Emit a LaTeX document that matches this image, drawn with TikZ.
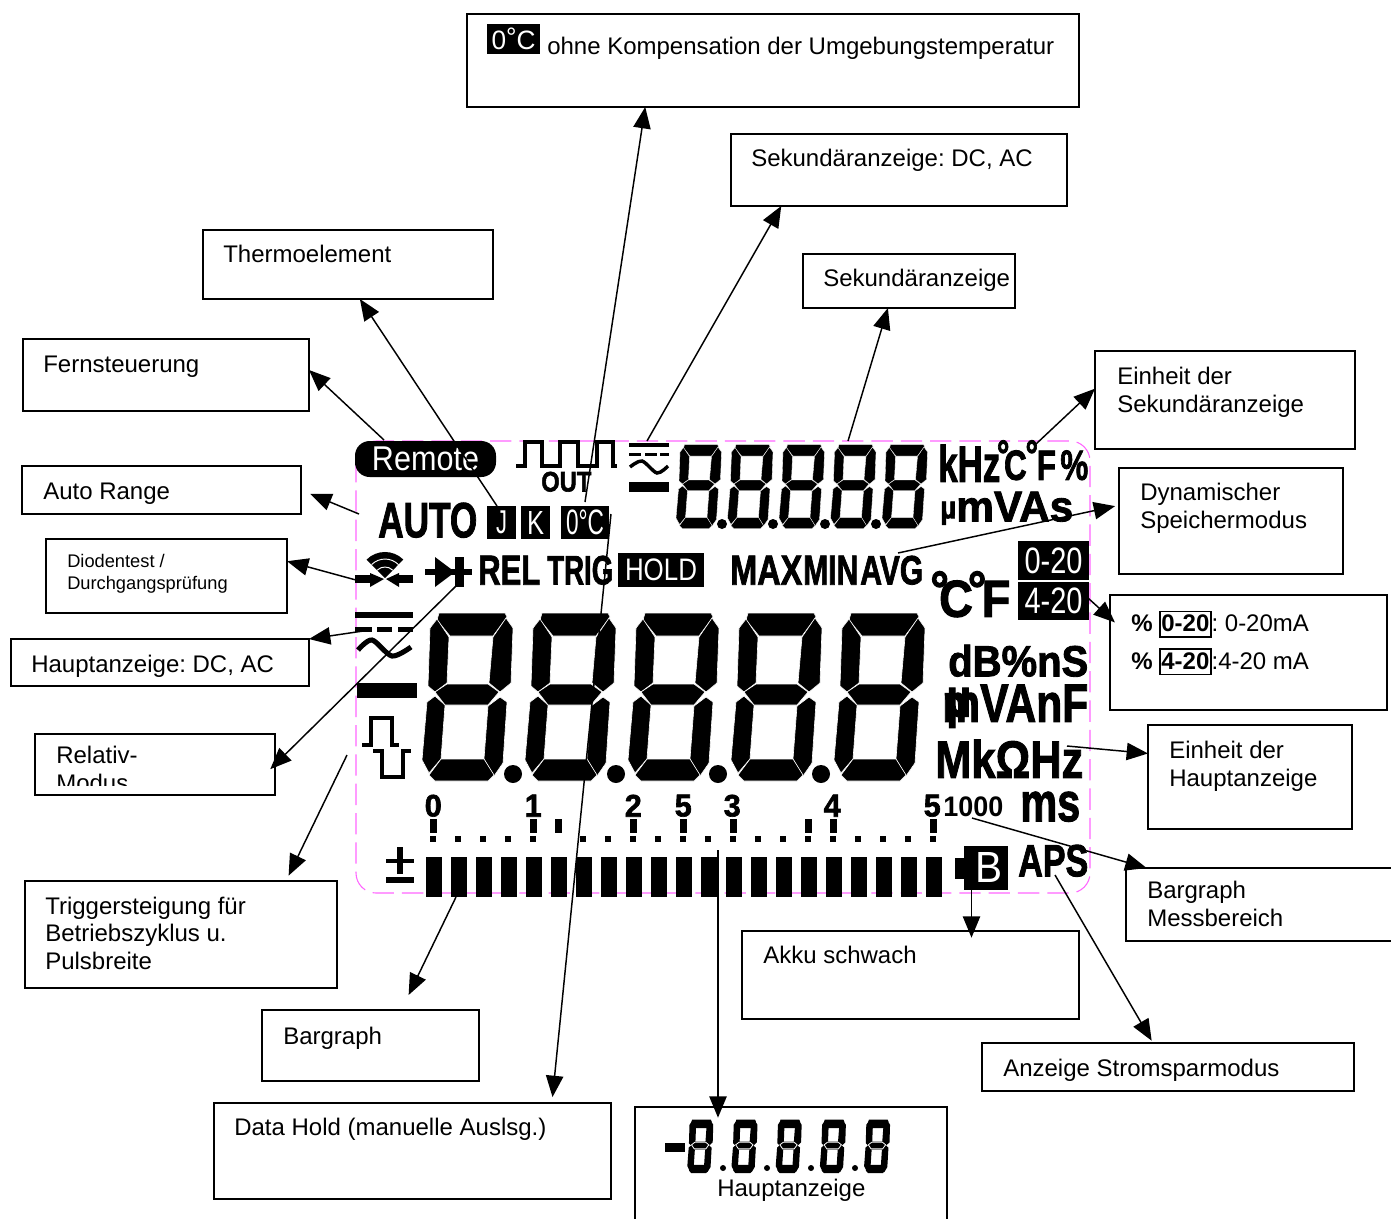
\documentclass[tikz,border=0pt]{standalone}
\usepackage{graphicx}
\usepackage{fontspec}
\setmainfont{Liberation Sans}
\newfontface\lcdface{Liberation Sans Bold}[FakeBold=2]
\usetikzlibrary{arrows.meta,calc}
\definecolor{lcdpink}{RGB}{255,102,255}
\newlength\pxu
\setlength\pxu{.75pt}
\newcommand{\lcdb}[3]{\resizebox*{#1\pxu}{#2\pxu}{\lcdface #3}}
\newcommand{\lcdr}[3]{\resizebox*{#1\pxu}{#2\pxu}{#3}}
\newcommand{\rdeg}[1]{\raisebox{#1}{°}}
\newcommand{\rngbox}[1]{\fbox{\rule[-3pt]{0pt}{17pt}\textbf{#1}}}
\newcommand{\lcdmidseg}{(13,80)--(25,72)--(66,72)--(77,80)--(66,93)--(23,93)--cycle}
\newcommand{\lcddigit}{%
  \filldraw[seg] (17,1)--(83,1)--(85,5)--(71,24)--(28,24)--(15,8)--cycle;
  \filldraw[seg] (15,7)--(27,25)--(25,71)--(13,80)--(6,74)--(8,16)--cycle;
  \filldraw[seg] (84,6)--(91,16)--(89,71)--(78,80)--(67,71)--(71,25)--cycle;
  \filldraw[seg] \lcdmidseg;
  \filldraw[seg] (13,84)--(5,90)--(0,148)--(7,161)--(19,147)--(23,93)--cycle;
  \filldraw[seg] (78,85)--(85,90)--(81,151)--(72,164)--(62,147)--(66,94)--cycle;
  \filldraw[seg] (19,147)--(62,147)--(72,163)--(66,169)--(13,169)--(7,163)--cycle;
}
\begin{document}
\frenchspacing
\begin{tikzpicture}[
  x=.75pt,y=-.75pt,
  lblbox/.style={
    rectangle, draw=black, line width=1.1pt, fill=white,
    anchor=north west, inner sep=0pt, outer sep=0pt
  },
  lbltxt/.style={
    anchor=base west, inner sep=0pt, align=left,
    font=\fontsize{18}{20.3}\selectfont
  },
  lblsmall/.style={
    anchor=base west, inner sep=0pt, align=left,
    font=\fontsize{13.7}{16.5}\selectfont
  },
  lcdlab/.style={anchor=south west, inner sep=0pt},
  lcdbadge/.style={fill=black, text=white, inner sep=0pt, outer sep=0pt},
  seg/.style={fill=black, draw=white, line width=.45pt},
  conn/.style={-{Triangle[length=16pt,width=13pt]}, line width=1.1pt, draw=black}
]
\useasboundingbox (0,0) rectangle (1391,1218);

\draw[lcdpink, line width=.8pt, rounded corners=15pt, dash pattern=on 16pt off 6pt]
  (356,441) rectangle (1090,893);

% upper row
\node[lcdbadge, rounded corners=11pt, minimum width=141\pxu, minimum height=36\pxu]
  (remote) at (425.5,459) {\lcdr{107}{24}{Remote}};
\draw[line width=3pt] (516,466) -| (525,442) -| (542,466) -| (560,442) -| (578,466)
  -| (597,442) -| (613,466) -- (617,466);
\node[lcdlab] (out) at (541,492) {\lcdb{50}{20}{OUT}};
\fill (629,443) rectangle (669,447);
\fill (629,453) rectangle (641,455.5);
\fill (645,453) rectangle (657,455.5);
\fill (660,453) rectangle (669,455.5);
\draw[line width=2.6pt] plot[smooth] coordinates {(630,467) (642,461) (657,473) (668,466)};
\fill (629,482) rectangle (669,492);
\foreach \dg in {0,1,2,3,4}{
  \begin{scope}[shift={({676+51.5*\dg},444)},scale=.5,seg/.style={fill=black,draw=white,line width=.25pt}]
    \lcddigit
  \end{scope}
}
\foreach \dotx in {722,773,825,876}{\fill (\dotx,524) circle (5);}
\node[lcdlab] (khz) at (938,482) {\lcdb{62}{37}{kHz}};
\node[lcdlab] (unitS) at (996.6,480.5) {\lcdb{91.4}{40}{\rdeg{.24em}\kern-.17em C\kern-.04em\rdeg{.24em}\kern-.04em F\kern.14em\%}};
\node[lcdlab] (mu) at (940,525) {\lcdb{16}{23}{µ}};
\node[lcdlab] (mvas) at (956,522) {\lcdb{117}{30}{mVAs}};

% second row
\node[lcdlab] (auto) at (378,538) {\lcdb{99}{35}{AUTO}};
\node[lcdbadge, minimum width=29\pxu, minimum height=33\pxu] (tcj) at (501.5,522.5) {\lcdr{11}{23}{J}};
\node[lcdbadge, minimum width=29\pxu, minimum height=33\pxu] (tck) at (535.5,522.5) {\lcdr{17}{23}{K}};
\node[lcdbadge, minimum width=48\pxu, minimum height=33\pxu] (tcz) at (585,522.5) {\lcdr{38}{25}{0°C}};

% third row
\fill (385,578) -- (366.6,559.6) arc[start angle=135,end angle=45,radius=19.5pt] -- cycle;
\draw[white, line width=.7pt] (371.6,564.6) arc[start angle=135,end angle=45,radius=14.25pt];
\draw[white, line width=.7pt] (377.2,570.2) arc[start angle=135,end angle=45,radius=8.25pt];
\fill (355,575) rectangle (372,583);
\fill (397,575) rectangle (413,583);
\fill (370,573) -- (370,587) -- (384,579) -- cycle;
\fill (399,573) -- (399,587) -- (386,579) -- cycle;
\fill (435,557) -- (435,587) -- (455,572) -- cycle;
\fill (425,569) rectangle (472,575);
\fill (455,557) rectangle (464,587);
\node[lcdlab] (rel) at (478,585) {\lcdb{62}{29}{REL}};
\node[lcdlab] (trig) at (547,585) {\lcdb{66}{29}{TRIG}};
\node[lcdbadge, minimum width=86\pxu, minimum height=34\pxu] (hold) at (661,570) {\lcdr{72}{22}{HOLD}};
\node[lcdlab] (max) at (730,585) {\lcdb{72}{29}{MAX}};
\node[lcdlab] (min) at (803,585) {\lcdb{55}{29}{MIN}};
\node[lcdlab] (avg) at (860,585) {\lcdb{63}{29}{AVG}};
\node[lcdlab] (unitT) at (930,617.5) {\lcdb{80}{46}{\rdeg{.18em}\kern-.21em C\kern-.11em\rdeg{.18em}\kern-.1em F}};
\node[lcdbadge, minimum width=71\pxu, minimum height=39\pxu] (rngA) at (1053.5,560.5) {\lcdr{58}{26}{0-20}};
\node[lcdbadge, minimum width=71\pxu, minimum height=38\pxu] (rngB) at (1053.5,601) {\lcdr{58}{26}{4-20}};

% main digits
\fill (355,612) rectangle (413,618);
\fill (355,627) rectangle (372,632);
\fill (377,627) rectangle (392,632);
\fill (398,627) rectangle (413,632);
\draw[line width=3.8pt] plot[smooth] coordinates {(358,650) (372,640) (392,656) (411,647)};
\fill (357,683) rectangle (417,698);
\draw[line width=3.4pt] (362,745) -- (371,745) -- (371,718) -- (392,718) -- (392,745) -- (399,745);
\draw[line width=3.4pt] (373,751) -- (382,751) -- (382,777) -- (403,777) -- (403,751) -- (411,751);
\foreach \dg in {0,1,2,3,4}{
  \begin{scope}[shift={({422+103*\dg},612)}]
    \lcddigit
  \end{scope}
}
\foreach \dotx in {513,616,718,821}{\fill (\dotx,774) circle (9);}
\node[lcdlab] (dbpct) at (948,677) {\lcdb{140}{32}{dB\%nS}};
\node[lcdlab] (mvanf) at (942,728) {\lcdb{146}{43}{\rlap{\kern.1em\raisebox{.1em}{µ}}mVAnF}};
\node[lcdlab] (mkohm) at (935,778) {\lcdb{148}{38}{MkΩHz}};
\node[lcdlab] (msec) at (1020,822) {\lcdb{60}{30}{ms}};

% bargraph
\foreach \nx/\nt in {433/0,533/1,633/2,683/5,732/3,832/4,932/5}{
  \node[lcdlab] (num\nx) at (\nx-8.5,817) {\lcdb{17}{22}{\nt}};
}
\node[lcdlab] (num1000) at (943,817) {\resizebox*{60\pxu}{20\pxu}{\bfseries 1000}};
\foreach \tx in {433,533,558,633,683,733,808,833,933}{\fill (\tx-3.5,819) rectangle (\tx+3.5,833);}
\foreach \tx in {433,458,483,508,533,583,608,633,658,683,708,733,758,783,808,833,858,883,908,933}{
  \fill (\tx-3,836) rectangle (\tx+3,842);
}
\foreach \bx in {0,...,20}{\fill ({426+25*\bx},857) rectangle ({442+25*\bx},897);}
\fill (386,859) rectangle (414,863);
\fill (397,847) rectangle (403,874);
\fill (386,877) rectangle (414,883);
\fill (964,846) rectangle (1008,890);
\fill (955,858) rectangle (964,879);
\node[lcdlab, text=white] (batt) at (975,883) {\lcdr{27}{30}{B}};
\node[lcdlab] (aps) at (1018,877) {\lcdb{70}{32}{APS}};

% label boxes
\node[lblbox, minimum width=612\pxu, minimum height=93\pxu] (kompBox) at (467,14) {};
\node[lcdbadge, minimum width=53\pxu, minimum height=30\pxu] (kompBadge) at (513.5,39) {\lcdr{44}{22}{0\rdeg{.12em}C}};
\node[lbltxt] (kompTxt) at (547,54) {ohne Kompensation der Umgebungstemperatur};
\node[lblbox, minimum width=336\pxu, minimum height=72\pxu] (sekdcBox) at (731,134) {};
\node[lbltxt] (sekdcTxt) at (751,166) {Sekundäranzeige: DC, AC};
\node[lblbox, minimum width=212\pxu, minimum height=54\pxu] (sekBox) at (803,254) {};
\node[lbltxt] (sekTxt) at (823,286) {Sekundäranzeige};
\node[lblbox, minimum width=290\pxu, minimum height=69\pxu] (thermBox) at (203,230) {};
\node[lbltxt] (thermTxt) at (223,262) {Thermoelement};
\node[lblbox, minimum width=286\pxu, minimum height=72\pxu] (fernBox) at (23,339) {};
\node[lbltxt] (fernTxt) at (43,372) {Fernsteuerung};
\node[lblbox, minimum width=279\pxu, minimum height=48\pxu] (autoBox) at (22,466) {};
\node[lbltxt] (autoTxt) at (43,499) {Auto Range};
\node[lblbox, minimum width=241\pxu, minimum height=74\pxu] (diodeBox) at (46,539) {};
\node[lblsmall] (diodeTxt) at (67,589) {Diodentest /\\Durchgangsprüfung};
\node[lblbox, minimum width=298\pxu, minimum height=47\pxu] (hauptdcBox) at (11,639) {};
\node[lbltxt] (hauptdcTxt) at (31,672) {Hauptanzeige: DC, AC};
\node[lblbox, minimum width=240\pxu, minimum height=61\pxu] (relBox) at (35,734) {};
\begin{scope}
  \clip (36,735) rectangle (274,785);
  \node[lbltxt] (relTxt) at (56,791) {Relativ-\\Modus};
\end{scope}
\node[lblbox, minimum width=312\pxu, minimum height=107\pxu] (trigBox) at (25,881) {};
\node[lbltxt] (trigTxt) at (45,969) {Triggersteigung für\\Betriebszyklus u.\\Pulsbreite};
\node[lblbox, minimum width=217\pxu, minimum height=71\pxu] (barBox) at (262,1010) {};
\node[lbltxt] (barTxt) at (283,1044) {Bargraph};
\node[lblbox, minimum width=397\pxu, minimum height=96\pxu] (holdBox) at (214,1103) {};
\node[lbltxt] (holdTxt) at (234,1135) {Data Hold (manuelle Auslsg.)};
\node[lblbox, minimum width=312\pxu, minimum height=125\pxu] (mainBox) at (635,1107) {};
\fill (665,1143) rectangle (685,1152);
\foreach \dg in {0,1,2,3,4}{
  \begin{scope}[shift={({688+44.2*\dg},1120)},xscale=.27,yscale=.31,seg/.style={fill=black,draw=black,line width=1pt}]
    \lcddigit
    \filldraw[fill=black,draw=white,line width=.6pt] \lcdmidseg;
  \end{scope}
}
\foreach \dotx in {723,767,811,855}{\fill (\dotx,1168) circle (3);}
\node[lbltxt] (mainTxt) at (717,1196) {Hauptanzeige};
\node[lblbox, minimum width=337\pxu, minimum height=88\pxu] (akkuBox) at (742,931) {};
\node[lbltxt] (akkuTxt) at (763,963) {Akku schwach};
\node[lblbox, minimum width=372\pxu, minimum height=48\pxu] (apsBox) at (982,1043) {};
\node[lbltxt] (apsTxt) at (1003,1076) {Anzeige Stromsparmodus};
\node[lblbox, minimum width=280\pxu, minimum height=73\pxu] (messBox) at (1126,868) {};
\node[lbltxt] (messTxt) at (1147,926) {Bargraph\\Messbereich};
\node[lblbox, minimum width=204\pxu, minimum height=104\pxu] (einhBox) at (1148,725) {};
\node[lbltxt] (einhTxt) at (1169,786) {Einheit der\\Hauptanzeige};
\node[lblbox, minimum width=277\pxu, minimum height=115\pxu] (rngBox) at (1110,595) {};
\node[lbltxt, font=\fontsize{18}{28}\selectfont] (rngTxt) at (1131,669)
  {\setlength{\fboxsep}{.5pt}\setlength{\fboxrule}{1.1pt}\textbf{\%} \rngbox{0-20}: 0-20mA\\
   \setlength{\fboxsep}{.5pt}\setlength{\fboxrule}{1.1pt}\textbf{\%} \rngbox{4-20}:4-20 mA};
\node[lblbox, minimum width=224\pxu, minimum height=106\pxu] (dynBox) at (1119,468) {};
\node[lbltxt] (dynTxt) at (1140,528) {Dynamischer\\Speichermodus};
\node[lblbox, minimum width=260\pxu, minimum height=98\pxu] (einsBox) at (1095,351) {};
\node[lbltxt] (einsTxt) at (1117,412) {Einheit der\\Sekundäranzeige};

% connector feet on the display
\coordinate (kompFoot) at (585,502);
\coordinate (sekdcFoot) at (647,441);
\coordinate (sekFoot) at (848,441);
\coordinate (thermFoot) at (497,506);
\coordinate (fernFoot) at (384,440);
\coordinate (autoFoot) at (359,514);
\coordinate (diodeFoot) at (356,580);
\coordinate (hauptdcFoot) at (370,630);
\coordinate (relFoot) at (456,586);
\coordinate (trigFoot) at (347,755);
\coordinate (barFoot) at (456,897);
\coordinate (holdFoot) at (611,514);
\coordinate (mainFoot) at (718,850);
\coordinate (akkuFoot) at (971.5,890);
\coordinate (apsFoot) at (1055,875);
\coordinate (messFoot) at (972,818);
\coordinate (einhFoot) at (1067,746);
\coordinate (rngFoot) at (1088,598);
\coordinate (dynFoot) at (898,553);
\coordinate (einsFoot) at (1036,444);

\draw[conn] (kompFoot) -- (kompBox.200.4);
\draw[conn] (sekdcFoot) -- (sekdcBox.197);
\draw[conn] (sekFoot) -- (sekBox.232);
\draw[conn] (thermFoot) -- (thermBox.289);
\draw[conn] (fernFoot) -- (fernBox.2);
\draw[conn, shorten >=7.5pt] (autoFoot) -- (autoBox.east);
\draw[conn] (diodeFoot) -- (diodeBox.7.6);
\draw[conn] (hauptdcFoot) -- (hauptdcBox.north east);
\draw[conn, shorten >=-5pt] (relFoot) -- (relBox.east);
\draw[conn, shorten >=4.5pt] (trigFoot) -- (trigBox.27.4);
\draw[conn, shorten >=12.5pt] (barFoot) -- (barBox.49.8);
\draw[conn, shorten >=4.5pt] (holdFoot) -- (holdBox.19);
\draw[conn, shorten >=-8pt] (mainFoot) -- (mainFoot |- mainBox.north);
\draw[conn, shorten >=-5pt] (akkuFoot) -- (akkuFoot |- akkuBox.north);
\draw[conn, shorten >=2pt] (apsFoot) -- (apsBox.122);
\draw[conn] (messFoot) -- (messBox.163.5);
\draw[conn] (einhFoot) -- (einhBox.167.8);
\draw[conn, shorten >=-5pt] (rngFoot) -- (rngBox.166.8);
\draw[conn, shorten >=3pt] (dynFoot) -- (dynBox.172.7);
\draw[conn] (einsFoot) -- (einsBox.175.6);
\end{tikzpicture}
\end{document}
